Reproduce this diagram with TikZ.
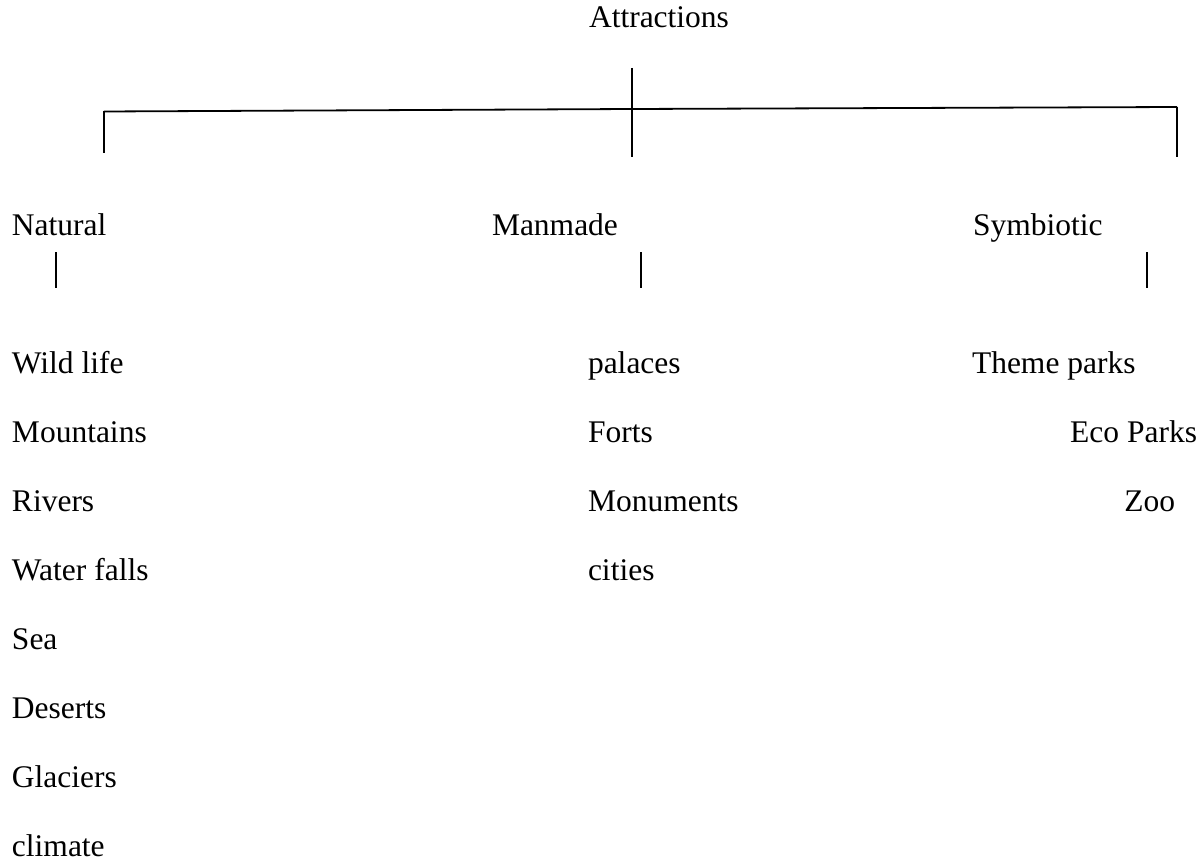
\documentclass[tikz,border=0pt]{standalone}
\usepackage{fontspec}
\setmainfont{Liberation Serif}
\begin{document}
\begin{tikzpicture}[x=1pt,y=-1pt,
  lbl/.style={inner sep=0pt,outer sep=0pt,font=\fontsize{31.5}{38}\selectfont},
  ln/.style={line width=1.8pt,black}]
\useasboundingbox (0,0) rectangle (1202,864);
% title
\node[lbl,anchor=base west] (attr) at (589,28) {Attractions};
% bracket lines
\coordinate (ctop) at (632,68);
\coordinate (cmid) at (632,109);
\coordinate (cbot) at (632,157);
\coordinate (lend) at (104,111.5);
\coordinate (lbot) at (104,153);
\coordinate (rend) at (1177,107);
\coordinate (rbot) at (1177,157);
\draw[ln] (ctop) -- (cbot);
\draw[ln] (lend) -- (cmid) -- (rend);
\draw[ln] (lend) -- (lbot);
\draw[ln] (rend) -- (rbot);
% categories
\node[lbl,anchor=base west] (nat) at (12,235) {Natural};
\node[lbl,anchor=base west] (man) at (492,235) {Manmade};
\node[lbl,anchor=base west] (sym) at (973,235) {Symbiotic};
\coordinate (n1) at (56,252); \coordinate (n2) at (56,288);
\coordinate (m1) at (641,252); \coordinate (m2) at (641,288);
\coordinate (s1) at (1147,252); \coordinate (s2) at (1147,288);
\draw[ln] (n1) -- (n2);
\draw[ln] (m1) -- (m2);
\draw[ln] (s1) -- (s2);
% natural list
\node[lbl,anchor=base west] (w1) at (12,373) {Wild life};
\node[lbl,anchor=base west] (w2) at (12,442) {Mountains};
\node[lbl,anchor=base west] (w3) at (12,511) {Rivers};
\node[lbl,anchor=base west] (w4) at (12,580) {Water falls};
\node[lbl,anchor=base west] (w5) at (12,649) {Sea};
\node[lbl,anchor=base west] (w6) at (12,718) {Deserts};
\node[lbl,anchor=base west] (w7) at (12,787) {Glaciers};
\node[lbl,anchor=base west] (w8) at (12,856) {climate};
% manmade list
\node[lbl,anchor=base west] (p1) at (588,373) {palaces};
\node[lbl,anchor=base west] (p2) at (588,442) {Forts};
\node[lbl,anchor=base west] (p3) at (588,511) {Monuments};
\node[lbl,anchor=base west] (p4) at (588,580) {cities};
% symbiotic list
\node[lbl,anchor=base west] (t1) at (972,373) {Theme parks};
\node[lbl,anchor=base east] (t2) at (1197,442) {Eco Parks};
\node[lbl,anchor=base east] (t3) at (1175,511) {Zoo};
\end{tikzpicture}
\end{document}
